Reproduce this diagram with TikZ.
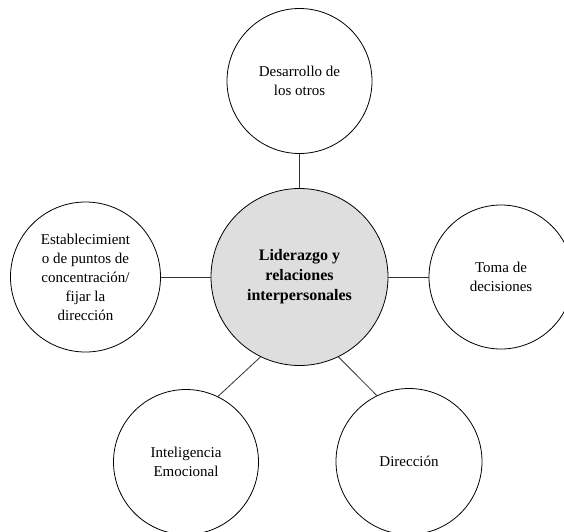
\documentclass[tikz,border=0pt]{standalone}
\usepackage{fontspec}
\setmainfont{Liberation Serif}
\definecolor{hubgray}{RGB}{222,222,222}
\tikzset{
  bubble/.style={circle, draw=black, line width=0.8pt, fill=white, inner sep=0pt, align=center,
    font=\fontsize{15}{19}\selectfont},
  hub/.style={bubble, fill=hubgray, font=\fontsize{16}{20}\selectfont\bfseries},
  link/.style={draw=black!80, line width=0.8pt}
}
\begin{document}
\begin{tikzpicture}[x=1pt,y=-1pt]
\useasboundingbox (0,0) rectangle (564,531);
\begin{scope}
\clip (0,0) rectangle (564,531);
\node[hub, minimum size=177pt] (c) at (299.5,277) {Liderazgo y\\relaciones\\interpersonales};
\node[bubble, minimum size=145pt] (t) at (299.5,81) {Desarrollo de\\los otros};
\node[bubble, minimum size=150pt] (l) at (85.5,277) {Establecimient\\o de puntos de\\concentración/\\fijar la\\dirección};
\node[bubble, minimum size=144pt] (r) at (501,277) {Toma de\\decisiones};
\node[bubble, minimum size=145pt] (bl) at (186,462) {Inteligencia\\Emocional};
\node[bubble, minimum size=146pt] (br) at (409,461.5) {Dirección};
\draw[link] (t.south) -- (c.north);
\draw[link] (l.east) -- (c.west);
\draw[link] (c.east) -- (r.west);
\draw[link] (c.-116) -- (bl.64);
\draw[link] (c.-64) -- (br.116);
\end{scope}
\end{tikzpicture}
\end{document}
